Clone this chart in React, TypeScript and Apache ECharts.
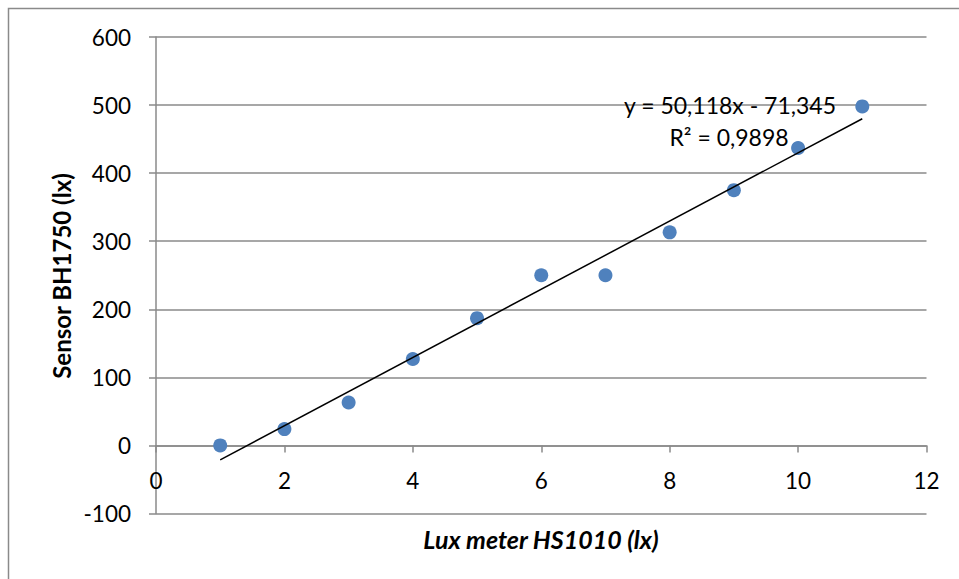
import React, { useEffect, useRef } from "react";
import * as echarts from "echarts";

const xValues = [1, 2, 3, 4, 5, 6, 7, 8, 9, 10, 11];
const yValues = [0, 24, 63, 127, 187, 250, 250, 313, 375, 437, 498];
const trendSlope = 50.118;
const trendIntercept = -71.345;
const trendRange = [1, 11];
const equationText = "y = 50,118x - 71,345";
const r2Text = "R² = 0,9898";
const xTitle = "Lux meter HS1010 (lx)";
const yTitle = "Sensor BH1750 (lx)";

const FONT = "Lato, 'Open Sans', sans-serif";
const GRAY = "#8a8a8a";

const GRID_TOP = 37;
const GRID_BOTTOM_Y = 513.5;
const Y_MIN = -100;
const Y_MAX = 600;

export default function App() {
  const ref = useRef<HTMLDivElement>(null);
  useEffect(() => {
    if (!ref.current) return;
    const chart = echarts.init(ref.current, null, { renderer: "svg" });
    const points = xValues.map((x, i) => [x, yValues[i]]);
    const trend = trendRange.map((x) => [x, trendSlope * x + trendIntercept]);
    const pxPerUnit = (GRID_BOTTOM_Y - GRID_TOP) / (Y_MAX - Y_MIN);
    const zeroOffset = -(0 - Y_MIN) * pxPerUnit;
    chart.setOption({
      animation: false,
      backgroundColor: "#ffffff",
      grid: { left: 156, right: 32.5, top: GRID_TOP, bottom: 579 - GRID_BOTTOM_Y, containLabel: false },
      xAxis: {
        type: "value",
        min: 0,
        max: 12,
        interval: 2,
        offset: zeroOffset,
        axisLine: { show: true, onZero: false, lineStyle: { color: GRAY, width: 1.5 } },
        axisTick: { show: true, inside: false, length: 7, lineStyle: { color: GRAY, width: 1.5 } },
        axisLabel: { margin: 24, color: "#000", fontSize: 22.5, fontFamily: FONT },
        splitLine: { show: false },
      },
      yAxis: {
        type: "value",
        min: Y_MIN,
        max: Y_MAX,
        interval: 100,
        axisLine: { show: true, onZero: false, lineStyle: { color: GRAY, width: 1.5 } },
        axisTick: { show: true, inside: false, length: 7, lineStyle: { color: GRAY, width: 1.5 } },
        axisLabel: { margin: 25, color: "#000", fontSize: 22.5, fontFamily: FONT },
        splitLine: { show: true, lineStyle: { color: GRAY, width: 1.5 } },
      },
      series: [
        {
          type: "scatter",
          data: points,
          symbol: "circle",
          symbolSize: 14,
          itemStyle: { color: "#4f81bd", opacity: 1 },
          z: 2,
        },
        {
          type: "line",
          data: trend,
          symbol: "none",
          lineStyle: { color: "#000", width: 1.5 },
          z: 3,
        },
      ],
      graphic: [
        {
          type: "rect",
          shape: { x: 8.5, y: 8.5, width: 1200, height: 1200 },
          style: { fill: "none", stroke: GRAY, lineWidth: 1.5 },
          silent: true,
          z: 0,
        },
        {
          type: "text",
          x: 730,
          y: 105,
          style: { text: equationText, fontSize: 23, fontFamily: FONT, fill: "#000", align: "center", verticalAlign: "middle" },
          z: 10,
        },
        {
          type: "text",
          x: 729,
          y: 137,
          style: { text: r2Text, fontSize: 23, fontFamily: FONT, fill: "#000", align: "center", verticalAlign: "middle" },
          z: 10,
        },
        {
          type: "text",
          x: 541,
          y: 539,
          style: { text: xTitle, fontSize: 25, fontWeight: "bold", fontStyle: "italic", fontFamily: FONT, fill: "#000", align: "center", verticalAlign: "middle" },
        },
        {
          type: "text",
          x: 61,
          y: 276,
          rotation: Math.PI / 2,
          style: { text: yTitle, fontSize: 24, fontWeight: "bold", fontFamily: FONT, fill: "#000", align: "center", verticalAlign: "middle" },
        },
      ],
    });
    return () => chart.dispose();
  }, []);
  return (
    <div
      ref={ref}
      style={{ position: "fixed", left: 0, top: 0, width: 959, height: 579 }}
    />
  );
}
